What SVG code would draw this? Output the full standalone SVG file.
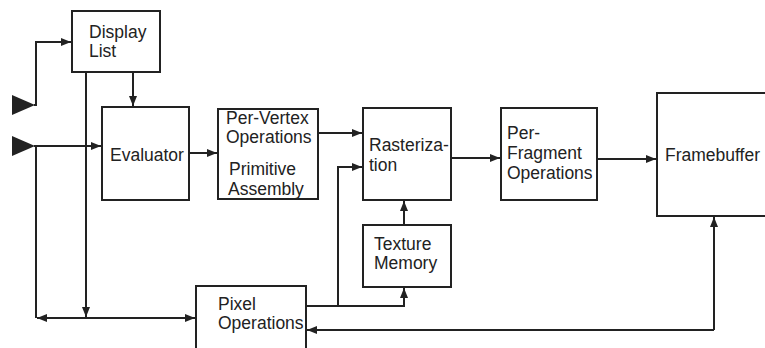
<svg xmlns="http://www.w3.org/2000/svg" width="765" height="348" viewBox="0 0 765 348">
<defs>
<marker id="ah" markerUnits="userSpaceOnUse" markerWidth="11" markerHeight="9" refX="10" refY="4" orient="auto">
<path d="M0,0 L10,4 L0,8 z" fill="#222"/>
</marker>
<marker id="ahs" markerUnits="userSpaceOnUse" markerWidth="11" markerHeight="9" refX="10" refY="4" orient="auto-start-reverse">
<path d="M0,0 L10,4 L0,8 z" fill="#222"/>
</marker>
</defs>
<style>
.box{fill:#fff;stroke:#222;stroke-width:2}
.t{font-family:"Liberation Sans",Arial,sans-serif;font-size:17.5px;fill:#222}
.c{fill:none;stroke:#222;stroke-width:2}
</style>
<rect x="0" y="0" width="765" height="348" fill="#fff"/>
<g id="connectors">
<polygon points="12,95 35,105 12,115" fill="#222"/>
<polygon points="12,136 35,146 12,156" fill="#222"/>
<path class="c" d="M34,105 H36 V42 H71" marker-end="url(#ah)"/>
<path class="c" d="M34,146 H101" marker-end="url(#ah)"/>
<path class="c" d="M133,72 V106" marker-end="url(#ah)"/>
<path class="c" d="M86,72 V317" marker-end="url(#ah)"/>
<path class="c" d="M36,146 V318"/>
<path class="c" d="M37,318 H195" marker-start="url(#ahs)" marker-end="url(#ah)"/>
<path class="c" d="M189,153 H217" marker-end="url(#ah)"/>
<path class="c" d="M318,133 H362" marker-end="url(#ah)"/>
<path class="c" d="M305,306 H338 V167 H362" marker-end="url(#ah)"/>
<path class="c" d="M338,306 H404 V288" marker-end="url(#ah)"/>
<path class="c" d="M404,225 V201" marker-end="url(#ah)"/>
<path class="c" d="M451,158 H500" marker-end="url(#ah)"/>
<path class="c" d="M597,159 H656" marker-end="url(#ah)"/>
<path class="c" d="M714,330 H307" marker-end="url(#ah)"/>
<path class="c" d="M714,330 V217" marker-end="url(#ah)"/>
</g>
<g id="display-list">
<rect class="box" x="72" y="11" width="88" height="61"/>
<text class="t" x="89" y="38">Display</text>
<text class="t" x="89" y="57">List</text>
</g>
<g id="evaluator">
<rect class="box" x="102" y="107" width="87" height="93"/>
<text class="t" x="110" y="161">Evaluator</text>
</g>
<g id="per-vertex">
<rect class="box" x="218" y="109" width="100" height="90"/>
<text class="t" x="226" y="124">Per-Vertex</text>
<text class="t" x="226" y="143">Operations</text>
<text class="t" x="229" y="175">Primitive</text>
<text class="t" x="228" y="195">Assembly</text>
</g>
<g id="rasterization">
<rect class="box" x="363" y="108" width="88" height="92"/>
<text class="t" x="369" y="151">Rasteriza-</text>
<text class="t" x="369" y="171">tion</text>
</g>
<g id="texture-memory">
<rect class="box" x="363" y="225" width="88" height="62"/>
<text class="t" x="374" y="250">Texture</text>
<text class="t" x="374" y="269">Memory</text>
</g>
<g id="per-fragment">
<rect class="box" x="501" y="108" width="96" height="92"/>
<text class="t" x="507" y="139">Per-</text>
<text class="t" x="507" y="159">Fragment</text>
<text class="t" x="507" y="179">Operations</text>
</g>
<g id="framebuffer">
<rect class="box" x="657" y="93" width="120" height="123"/>
<text class="t" x="665" y="161">Framebuffer</text>
</g>
<g id="pixel-operations">
<rect class="box" x="196" y="286" width="110" height="70"/>
<text class="t" x="218" y="310">Pixel</text>
<text class="t" x="218" y="329">Operations</text>
</g>
</svg>
